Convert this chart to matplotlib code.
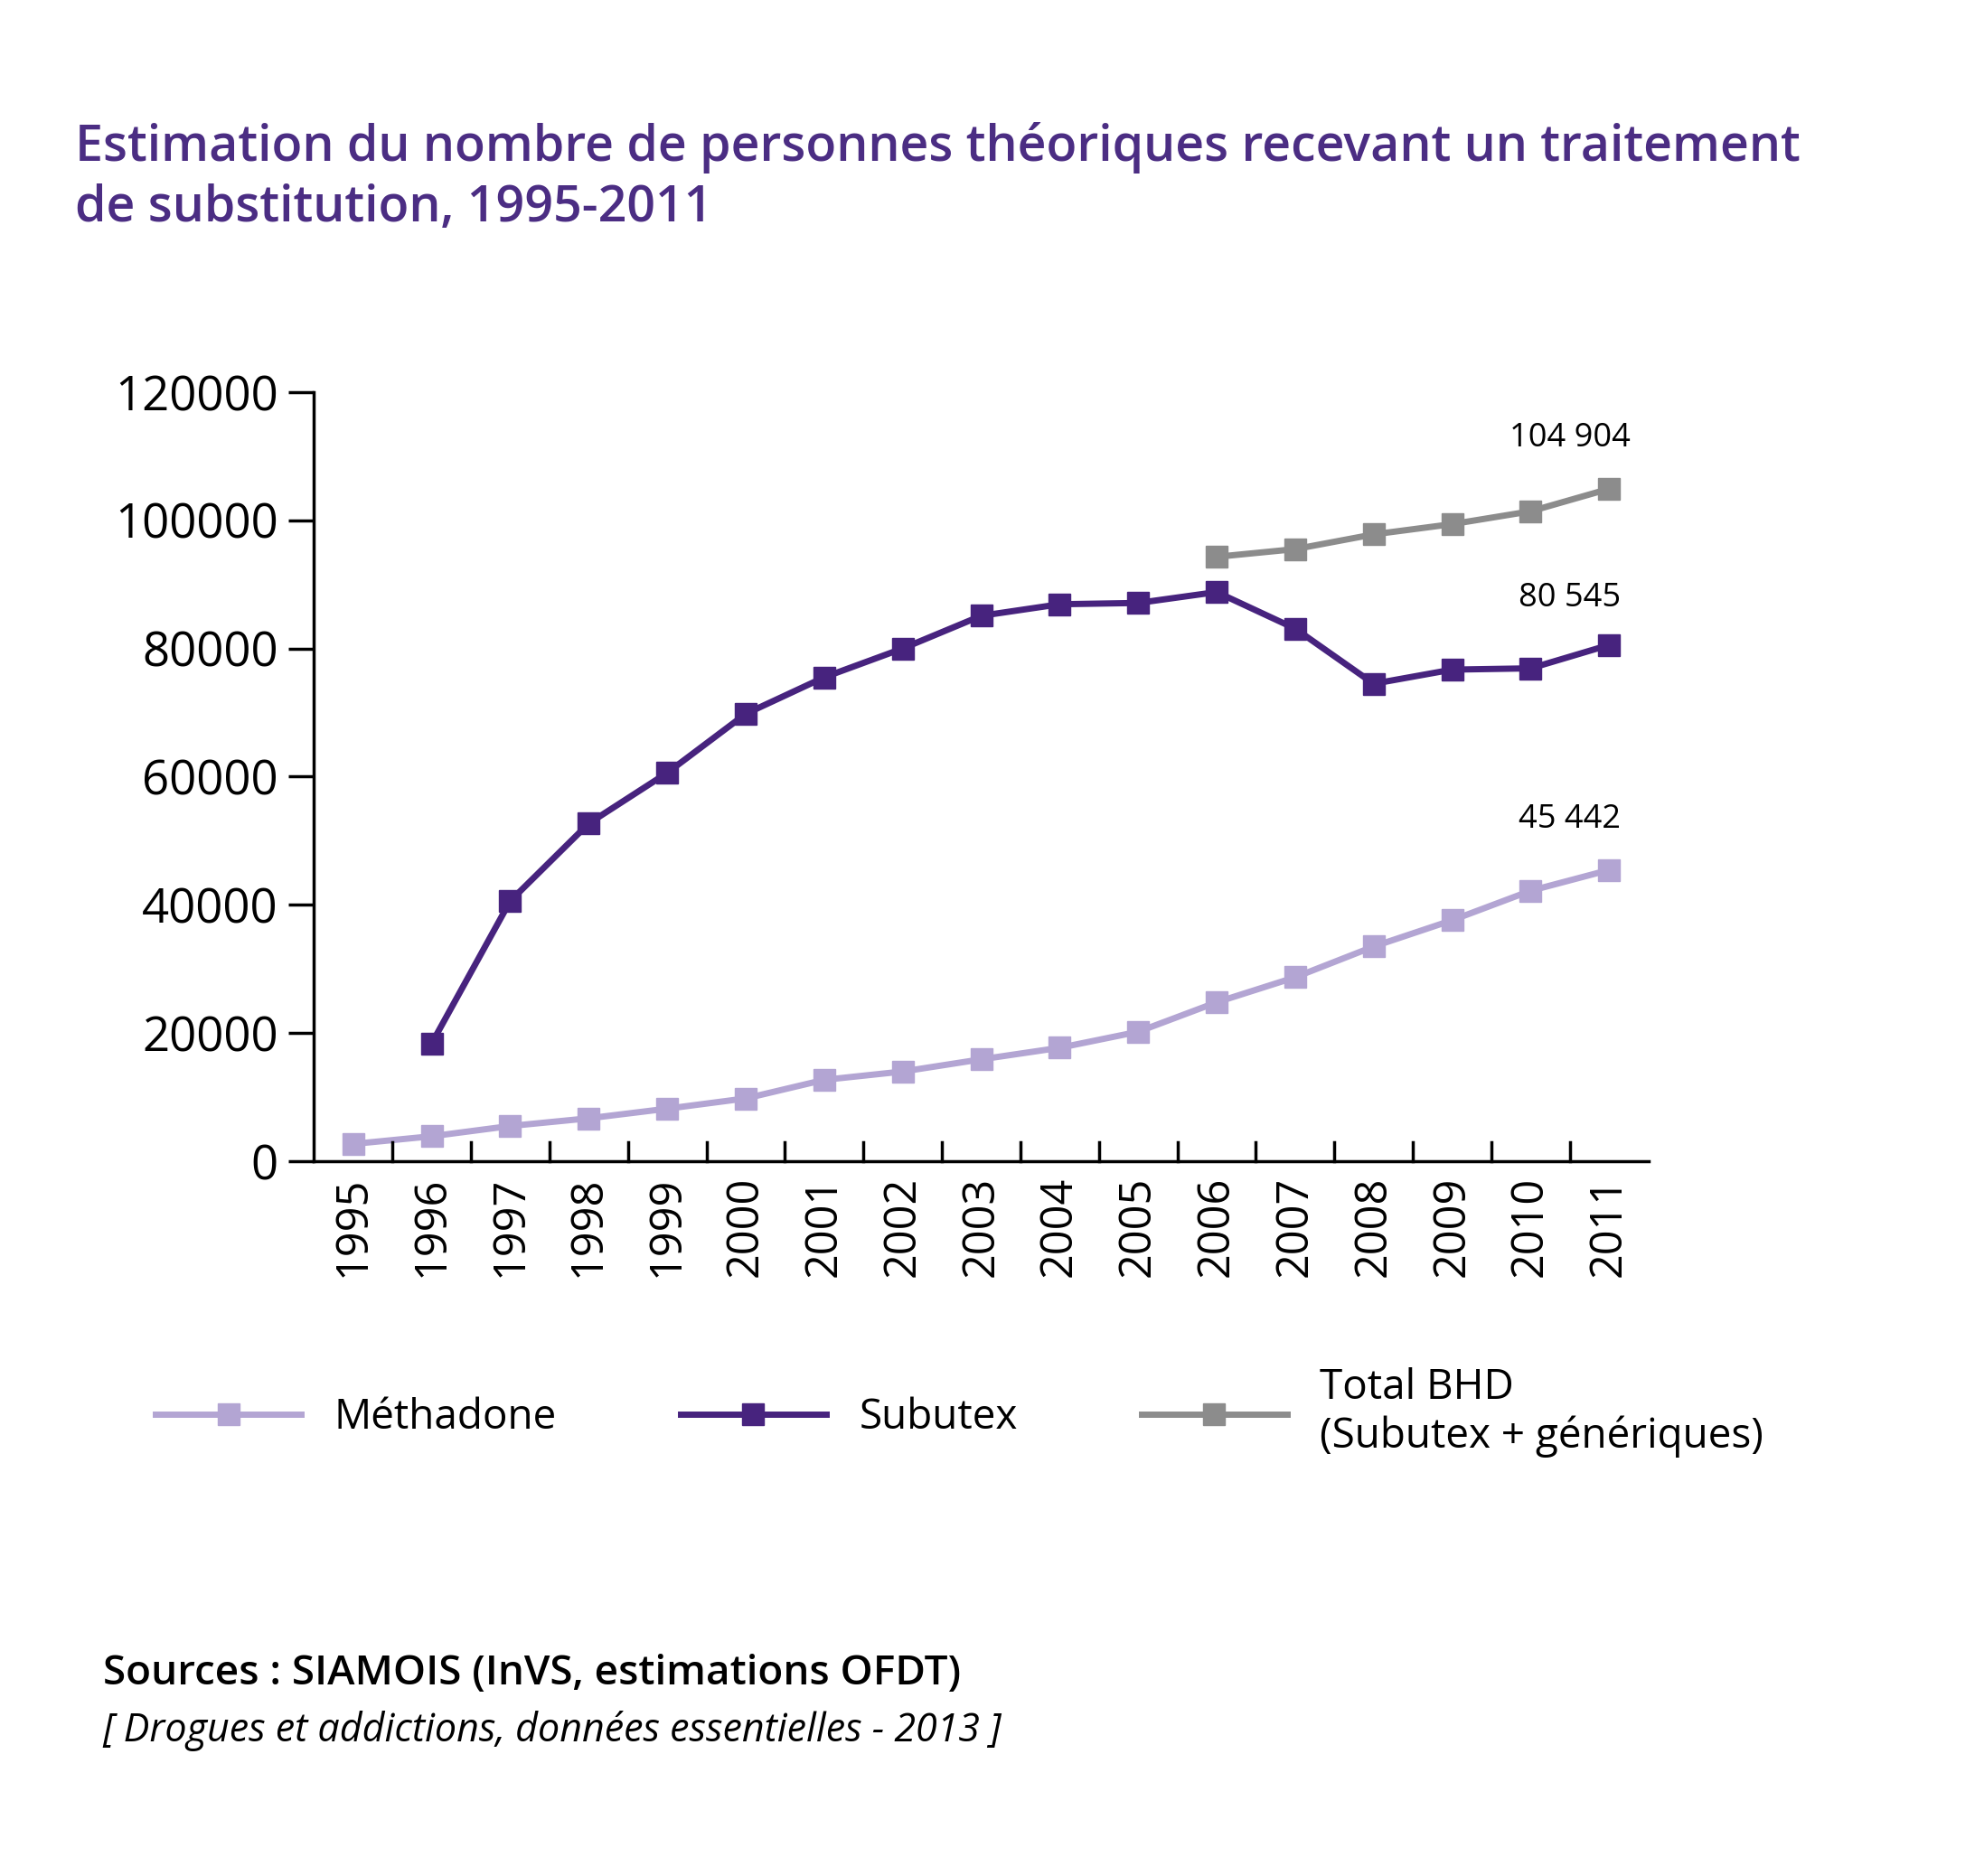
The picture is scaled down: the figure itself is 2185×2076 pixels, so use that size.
import matplotlib.pyplot as plt
import numpy as np

years = list(range(1995, 2012))
methadone = [2700, 3900, 5500, 6700, 8200, 9800, 12700, 14000, 15900, 17700,
             20200, 24800, 28700, 33500, 37600, 42200, 45442]
subutex_years = list(range(1996, 2012))
subutex = [18400, 40600, 52700, 60600, 69800, 75500, 80000, 85100, 86900,
           87100, 88800, 83100, 74500, 76700, 76900, 80545]
total_years = list(range(2006, 2012))
total_bhd = [94300, 95500, 97800, 99400, 101400, 104904]

plt.rcParams['font.family'] = ['Open Sans', 'DejaVu Sans']
c_meth = '#b3a5d3'
c_sub = '#47237e'
c_tot = '#8c8c8c'

fig = plt.figure(figsize=(21.85, 20.76), dpi=100)
ax = fig.add_axes([0.1586, 0.381, 0.676, 0.41])

ax.plot(years, methadone, color=c_meth, lw=5, marker='s', ms=17, label='Méthadone')
ax.plot(subutex_years, subutex, color=c_sub, lw=5, marker='s', ms=17, label='Subutex')
ax.plot(total_years, total_bhd, color=c_tot, lw=5, marker='s', ms=17,
        label='Total BHD\n(Subutex + génériques)')

ax.set_xlim(1994.49, 2011.5)
ax.set_ylim(0, 120000)
ax.set_yticks(range(0, 120001, 20000))
ax.tick_params(axis='y', labelsize=38, length=20, width=2.5, direction='out', pad=8)
ax.set_xticks(years)
ax.set_xticklabels([str(y) for y in years], rotation=90, fontsize=35)
ax.tick_params(axis='x', length=0, pad=12)
for x in np.arange(1995.5, 2011.5, 1):
    ax.plot([x, x], [0, 3000], color='black', lw=2.5, clip_on=False)
for s in ['top', 'right']:
    ax.spines[s].set_visible(False)
for s in ['left', 'bottom']:
    ax.spines[s].set_linewidth(2.5)

ax.annotate('104 904', (2011, total_bhd[-1]), xytext=(2010.5, 111500), fontsize=26, ha='center')
ax.annotate('80 545', (2011, subutex[-1]), xytext=(2010.5, 86500), fontsize=26, ha='center')
ax.annotate('45 442', (2011, methadone[-1]), xytext=(2010.5, 52000), fontsize=26, ha='center')

fig.text(0.038, 0.905, 'Estimation du nombre de personnes théoriques recevant un traitement\n'
         'de substitution, 1995-2011', fontsize=40, color='#4b2d83', weight='semibold',
         va='center', linespacing=1.25)

fig.legend(loc='center left', bbox_to_anchor=(0.06, 0.247), ncol=3, frameon=False,
           fontsize=33, handlelength=3.5, columnspacing=3, handletextpad=0.8)

fig.text(0.052, 0.102, 'Sources : SIAMOIS (InVS, estimations OFDT)', fontsize=33, weight='semibold')
fig.text(0.052, 0.072, '[ Drogues et addictions, données essentielles - 2013 ]', fontsize=31, style='italic')

fig.savefig('out.png', dpi=100)
